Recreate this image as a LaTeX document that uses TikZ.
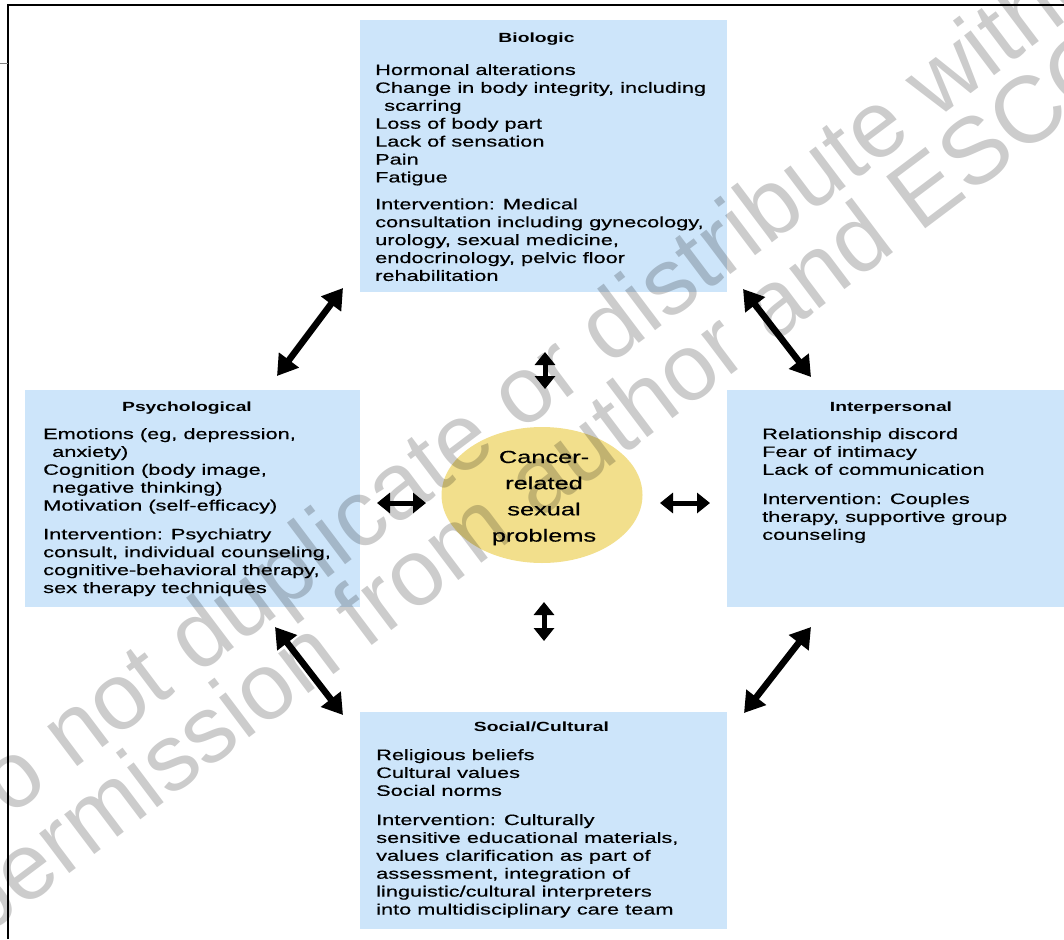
\documentclass[tikz,border=0pt]{standalone}
\usepackage{fontspec}
\setmainfont{Liberation Sans}[FakeStretch=1.45, UprightFeatures={FakeBold=0.4}]
\newfontfamily\wmfont{Liberation Sans}
\usetikzlibrary{arrows.meta,shapes.geometric}
\definecolor{boxblue}{RGB}{205,229,250}
\definecolor{ellyellow}{RGB}{242,223,140}
\newcommand\tlines[1]{\vtop{\fontsize{15}{17.9}\selectfont\halign{##\hfil\cr #1\crcr}}}
\newcommand\ctrlines[1]{\vtop{\fontsize{17.5}{26.2}\selectfont\halign{\hfil##\hfil\cr #1\crcr}}}
\newcommand\ind{\hskip9pt}
\begin{document}
\begin{tikzpicture}[x=1pt,y=-1pt,
  box/.style={draw=none, fill=boxblue, inner sep=0pt, outer sep=0pt, anchor=north west},
  ttl/.style={anchor=base, inner sep=0pt, font=\bfseries\fontsize{13.3}{16}\selectfont},
  body/.style={anchor=base west, inner sep=0pt},
  big/.style={line width=6.5pt, >={Triangle[length=20pt,width=24pt]}, <->},
  small/.style={line width=5pt, >={Triangle[length=13pt,width=20pt]}, <->},
  wm/.style={font=\wmfont\fontsize{94.4}{94.4}\selectfont, text=black, text opacity=0.2, inner sep=0pt, rotate=37}]
\useasboundingbox (0,0) rectangle (1064,939);
% frame
\draw[line width=2pt] (8,939) -- (8,5) -- (1064,5);
\draw[gray, line width=1pt] (0,64) -- (8,64);
% boxes
\node[box, minimum width=367pt, minimum height=272pt] (bio) at (360,20) {};
\node[box, minimum width=335pt, minimum height=217pt] (psy) at (25,390) {};
\node[box, minimum width=337pt, minimum height=217pt] (inter) at (727,390) {};
\node[box, minimum width=367pt, minimum height=217pt] (soc) at (360,712) {};
% ellipse
\node[ellipse, fill=ellyellow, minimum width=201pt, minimum height=136pt, inner sep=0pt] (core) at (542,495) {};
\node[anchor=base, inner sep=0pt] (coretext) at (544,463) {\ctrlines{Cancer-\cr related\cr sexual\cr problems}};
% titles
\node[ttl] (biot) at (536.5,43) {Biologic};
\node[ttl] (psyt) at (187,411) {Psychological};
\node[ttl] (intert) at (891,411) {Interpersonal};
\node[ttl] (soct) at (541.5,731.5) {Social/Cultural};
% body texts
\node[body] (bioa) at (375,75) {\tlines{Hormonal alterations\cr Change in body integrity, including\cr \ind scarring\cr Loss of body part\cr Lack of sensation\cr Pain\cr Fatigue}};
\node[body] (biob) at (375,209.3) {\tlines{Intervention: Medical\cr consultation including gynecology,\cr urology, sexual medicine,\cr endocrinology, pelvic floor\cr rehabilitation}};
\node[body] (psya) at (43,439) {\tlines{Emotions (eg, depression,\cr \ind anxiety)\cr Cognition (body image,\cr \ind negative thinking)\cr Motivation (self-efficacy)}};
\node[body] (psyb) at (43,539.3) {\tlines{Intervention: Psychiatry\cr consult, individual counseling,\cr cognitive-behavioral therapy,\cr sex therapy techniques}};
\node[body] (intera) at (762,439) {\tlines{Relationship discord\cr Fear of intimacy\cr Lack of communication}};
\node[body] (interb) at (762,504) {\tlines{Intervention: Couples\cr therapy, supportive group\cr counseling}};
\node[body] (soca) at (376,760) {\tlines{Religious beliefs\cr Cultural values\cr Social norms}};
\node[body] (socb) at (376,825) {\tlines{Intervention: Culturally\cr sensitive educational materials,\cr values clarification as part of\cr assessment, integration of\cr linguistic/cultural interpreters\cr into multidisciplinary care team}};
% arrow end points
\coordinate (ul1) at (277,376); \coordinate (ul2) at (343,288);
\coordinate (ur1) at (743,289); \coordinate (ur2) at (811,377);
\coordinate (ll1) at (275,627); \coordinate (ll2) at (343,715);
\coordinate (lr1) at (811,627); \coordinate (lr2) at (744,713);
\coordinate (st1) at (545,352); \coordinate (st2) at (545,389);
\coordinate (sb1) at (544,602); \coordinate (sb2) at (544,641);
\coordinate (sl1) at (377,503); \coordinate (sl2) at (426,503);
\coordinate (sr1) at (660,503); \coordinate (sr2) at (710,503);
\draw[big] (ul1) -- (ul2);
\draw[big] (ur1) -- (ur2);
\draw[big] (ll1) -- (ll2);
\draw[big] (lr1) -- (lr2);
\draw[small] (st1) -- (st2);
\draw[small] (sb1) -- (sb2);
\draw[small] (sl1) -- (sl2);
\draw[small] (sr1) -- (sr2);
% watermark
\node[wm] (wm1) at (550,380) {Do not duplicate or distribute without};
\node[wm] (wm2) at (542,487) {permission from author and ESCO};
\end{tikzpicture}
\end{document}
